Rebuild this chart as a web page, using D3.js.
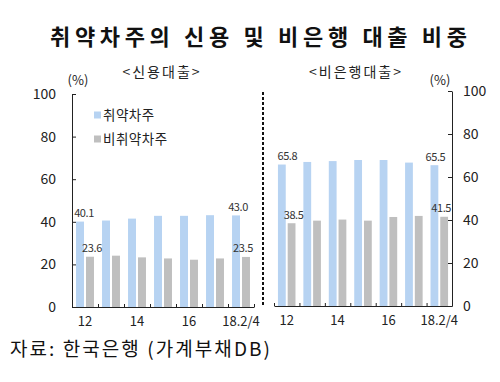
<!DOCTYPE html>
<html><head><meta charset="utf-8">
<script src="https://cdn.jsdelivr.net/npm/d3@7"></script>
<style>
html,body{margin:0;padding:0;background:#fff;}
svg{display:block;font-family:"Noto Sans CJK KR","Noto Sans",sans-serif;}
</style></head>
<body>
<svg id="c" width="500" height="382"></svg>
<script>
const categories = ["12","13","14","15","16","17","18.2/4"];
const xTickLabels = ["12","","14","","16","","18.2/4"];
const series = ["취약차주","비취약차주"];
const creditVulnerable = [40.1, 40.6, 41.5, 42.8, 42.8, 43.1, 43.0];
const creditOther      = [23.6, 24.1, 23.3, 22.8, 22.2, 22.8, 23.5];
const nonbankVulnerable = [65.8, 67.0, 67.4, 67.9, 67.9, 66.7, 65.5];
const nonbankOther      = [38.5, 39.7, 40.2, 39.7, 41.4, 41.9, 41.5];
const yTicks = [0, 20, 40, 60, 80, 100];
const labeledIdx = [0, 6];

const colors = {"취약차주":"#B7D3F2","비취약차주":"#BFBFBF"};
const svg = d3.select("#c");
const ink = "#222";

svg.append("text").attr("x",50).attr("y",45).attr("font-size",22).attr("font-weight",700)
  .attr("fill","#111").attr("textLength",417).attr("lengthAdjust","spacing")
  .text("취약차주의 신용 및 비은행 대출 비중");

function panel(opt){
  const g = svg.append("g");
  const x = d3.scaleBand().domain(categories).range(opt.xr).padding(0);
  const bw = x.bandwidth();
  const inner = d3.scaleBand().domain(series).range([bw*0.155, bw*0.845]).paddingInner(0.2);
  const y = d3.scaleLinear().domain([0,100]).range(opt.yr);

  // bars
  const data = categories.map((c,i)=>({c, i, v:[opt.a[i], opt.b[i]]}));
  const grp = g.selectAll("g.grp").data(data).join("g").attr("transform",d=>`translate(${x(d.c)},0)`);
  grp.selectAll("rect").data(d=>series.map((s,k)=>({s, v:d.v[k]}))).join("rect")
    .attr("x",d=>inner(d.s)).attr("width",inner.bandwidth())
    .attr("y",d=>y(d.v)).attr("height",d=>y(0)-y(d.v))
    .attr("fill",d=>colors[d.s]);

  // data labels
  labeledIdx.forEach(i=>{
    series.forEach((s,k)=>{
      const v = [opt.a[i],opt.b[i]][k];
      let dx = 0;
      if(i===0) dx = k===0 ? (opt.first0||4) : 2;
      else dx = k===0 ? (opt.last0||2) : -3;
      g.append("text").attr("x",x(categories[i])+inner(s)+inner.bandwidth()/2+dx)
        .attr("y",y(v)-4.5).attr("text-anchor","middle").attr("font-size",11)
        .attr("letter-spacing",-0.4).attr("fill","#333").text(v.toFixed(1));
    });
  });

  // x axis line with boundary ticks
  const xl = d3.scaleLinear().domain([0,categories.length]).range(opt.xr);
  g.append("g").attr("transform",`translate(0,${opt.yr[0]})`)
    .call(d3.axisBottom(xl).tickValues(d3.range(categories.length+1)).tickSize(-3).tickSizeOuter(0).tickFormat(""))
    .call(a=>{a.selectAll("path,line").attr("stroke",ink);});
  // category labels
  g.append("g").attr("transform",`translate(0,${opt.yr[0]})`)
    .call(d3.axisBottom(x).tickSize(0).tickPadding(10).tickFormat((d,i)=>xTickLabels[i]))
    .call(a=>{a.select(".domain").remove();
      a.selectAll("text").attr("font-size",13).attr("fill","#222").attr("font-family","'Noto Sans CJK KR',sans-serif");});

  // y axis
  const ax = opt.side==="left" ? d3.axisLeft(y) : d3.axisRight(y);
  g.append("g").attr("transform",`translate(${opt.side==="left"?opt.xr[0]:opt.xr[1]},0)`)
    .call(ax.tickValues(yTicks).tickSize(-4).tickSizeOuter(0).tickPadding(opt.side==="left"?16:11))
    .call(a=>{a.selectAll("path,line").attr("stroke",ink);
      a.selectAll("text").attr("font-size",14).attr("fill","#222").attr("font-family","'Noto Sans CJK KR',sans-serif");});

  // subtitle & unit
  svg.append("text").attr("x",opt.subX).attr("y",77).attr("text-anchor","middle")
    .attr("font-size",14).attr("fill","#222").attr("letter-spacing",2).text(opt.sub);
  svg.append("text").attr("x",opt.unitX).attr("y",85).attr("text-anchor","middle")
    .attr("font-size",13).attr("fill","#222").text("(%)");
  return {x, y};
}

panel({xr:[72,254], yr:[307,94], a:creditVulnerable, b:creditOther, side:"left",
  sub:"<신용대출>", subX:162, unitX:78});
panel({xr:[274,452], yr:[306,91], a:nonbankVulnerable, b:nonbankOther, side:"right",
  sub:"<비은행대출>", subX:356, unitX:440, first0:5.5, last0:1});

// dashed divider
svg.append("line").attr("x1",263).attr("x2",263).attr("y1",92).attr("y2",307)
  .attr("stroke","#111").attr("stroke-width",2).attr("stroke-dasharray","3,2");

// legend
series.forEach((s,k)=>{
  const ly = 115 + k*24;
  svg.append("rect").attr("x",94).attr("y",ly-3.5).attr("width",7).attr("height",7).attr("fill",colors[s]);
  svg.append("text").attr("x",103).attr("y",ly+5).attr("font-size",13.5).attr("fill","#222")
    .attr("letter-spacing",0.5).text(s);
});

// source
svg.append("text").attr("x",10).attr("y",356).attr("font-size",19).attr("fill","#111")
  .attr("textLength",260).attr("lengthAdjust","spacing").text("자료:  한국은행 (가계부채DB)");
</script>
</body></html>
